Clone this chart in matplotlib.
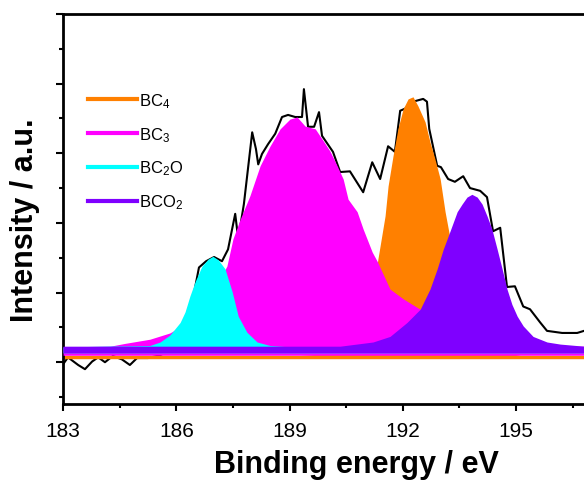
import numpy as np
import matplotlib
matplotlib.use("Agg")
import matplotlib.pyplot as plt
from matplotlib.lines import Line2D
from matplotlib.ticker import MultipleLocator

plt.rcParams['font.family'] = ['Liberation Sans', 'DejaVu Sans']
plt.rcParams['mathtext.default'] = 'regular'

# measured spectrum (binding energy in eV, intensity in a.u.)
exp_x = [183.00, 183.13, 183.40, 183.58, 183.77, 183.93, 184.11, 184.32, 184.56, 184.77,
         184.96, 185.25, 185.57, 185.89, 186.23, 186.44, 186.60, 186.79, 187.00, 187.21,
         187.37, 187.56, 187.64, 187.79, 188.01, 188.11, 188.17, 188.27, 188.43, 188.62,
         188.80, 188.96, 189.15, 189.33, 189.38, 189.49, 189.65, 189.78, 189.86, 190.15,
         190.34, 190.60, 190.95, 191.19, 191.40, 191.61, 191.79, 191.93, 192.06, 192.27,
         192.54, 192.64, 192.70, 192.91, 193.01, 193.20, 193.38, 193.60, 193.78, 194.05,
         194.23, 194.39, 194.58, 194.76, 194.97, 195.19, 195.37, 195.64, 195.82, 196.22,
         196.62, 196.80, 197.22]
exp_y = [-0.03, 0.07, -0.04, -0.10, 0.01, 0.07, 0.00, 0.09, 0.04, -0.04,
         0.06, 0.06, 0.10, 0.19, 0.47, 0.91, 1.36, 1.45, 1.51, 1.45,
         1.62, 2.13, 1.77, 2.27, 3.30, 3.06, 2.84, 2.99, 3.13, 3.28,
         3.52, 3.55, 3.52, 3.52, 3.92, 3.38, 3.38, 3.59, 3.25, 3.02,
         2.73, 2.74, 2.44, 2.87, 2.63, 3.10, 3.02, 3.61, 3.64, 3.74,
         3.78, 3.74, 3.35, 2.82, 2.80, 2.63, 2.59, 2.67, 2.50, 2.46,
         2.37, 1.88, 1.93, 1.08, 1.09, 0.80, 0.76, 0.57, 0.45, 0.42,
         0.42, 0.45, 0.47]

# fitted components
bc4_x = [183.00, 189.28, 190.34, 190.74, 191.00, 191.19, 191.34, 191.53, 191.61, 191.74,
         191.87, 192.01, 192.14, 192.27, 192.40, 192.59, 192.72, 192.85, 192.99, 193.12,
         193.23, 193.38, 193.57, 193.78, 194.05, 194.44, 195.11, 196.80]
bc4_y = [0.10, 0.10, 0.13, 0.22, 0.47, 0.91, 1.48, 2.10, 2.53, 2.96,
         3.35, 3.64, 3.78, 3.81, 3.68, 3.45, 3.16, 2.92, 2.63, 2.16,
         1.84, 1.41, 0.91, 0.47, 0.26, 0.16, 0.10, 0.10]

bc3_x = [183.00, 184.25, 184.64, 185.30, 185.83, 186.36, 186.89, 187.34, 187.50, 187.69,
         187.95, 188.22, 188.48, 188.75, 189.01, 189.20, 189.41, 189.68, 189.89, 190.07,
         190.26, 190.42, 190.55, 190.79, 190.95, 191.19, 191.32, 191.66, 192.01, 192.46,
         192.99, 193.52, 194.31, 195.37, 196.80]
bc3_y = [0.22, 0.23, 0.27, 0.33, 0.42, 0.59, 0.93, 1.38, 1.77, 2.05,
         2.39, 2.82, 3.10, 3.35, 3.49, 3.52, 3.39, 3.35, 3.18, 3.03,
         2.82, 2.63, 2.34, 2.16, 1.91, 1.58, 1.45, 1.05, 0.91, 0.76,
         0.59, 0.43, 0.30, 0.24, 0.23]

bc2o_x = [183.00, 185.30, 185.57, 185.83, 186.10, 186.23, 186.36, 186.50, 186.68, 186.84,
          186.97, 187.11, 187.29, 187.48, 187.64, 187.87, 188.14, 188.48, 189.01, 196.80]
bc2o_y = [0.22, 0.24, 0.29, 0.39, 0.57, 0.72, 0.95, 1.16, 1.38, 1.48,
          1.52, 1.47, 1.34, 1.01, 0.66, 0.43, 0.29, 0.24, 0.22, 0.22]

bco2_x = [183.00, 190.34, 191.21, 191.66, 192.11, 192.46, 192.72, 192.91, 193.07, 193.25,
          193.44, 193.57, 193.70, 193.83, 193.97, 194.10, 194.23, 194.36, 194.50, 194.63,
          194.76, 194.89, 195.03, 195.19, 195.45, 195.82, 196.17, 196.80]
bco2_y = [0.23, 0.23, 0.29, 0.37, 0.57, 0.76, 1.05, 1.34, 1.62, 1.88,
          2.16, 2.27, 2.37, 2.41, 2.37, 2.27, 2.10, 1.91, 1.62, 1.34,
          1.05, 0.83, 0.66, 0.52, 0.37, 0.29, 0.26, 0.23]

labels = ["BC$_4$", "BC$_3$", "BC$_2$O", "BCO$_2$"]
colors = ["#FF8000", "#FF00FF", "#00FFFF", "#7F00FF"]

fig = plt.figure(figsize=(5.84, 4.81), dpi=100)
ax = fig.add_axes([0.108, 0.158, 0.892, 0.811])

ax.plot(exp_x, exp_y, color="black", linewidth=1.5, zorder=1)
# drawing order: BC4, BC3, BC2O, BCO2
ax.fill_between(bc4_x, bc4_y, 0.05, color=colors[0], linewidth=0, zorder=2)
ax.fill_between(bc3_x, bc3_y, 0.10, color=colors[1], linewidth=0, zorder=3)
ax.fill_between(bc2o_x, bc2o_y, 0.135, color=colors[2], linewidth=0, zorder=4)
ax.fill_between(bco2_x, bco2_y, 0.135, color=colors[3], linewidth=0, zorder=5)

ax.set_xlim(183, 196.80)
ax.set_ylim(-0.6, 5.0)
ax.xaxis.set_major_locator(MultipleLocator(3))
ax.xaxis.set_minor_locator(MultipleLocator(1.5))
ax.yaxis.set_major_locator(MultipleLocator(1))
ax.yaxis.set_minor_locator(MultipleLocator(0.5))
ax.set_yticklabels([])
ax.tick_params(which="both", direction="out", width=1.5, top=False, right=False)
ax.tick_params(which="major", length=5, labelsize=15, pad=7)
ax.tick_params(which="minor", length=3)
for side in ["left", "bottom", "top"]:
    ax.spines[side].set_linewidth(2)
ax.spines["right"].set_visible(False)

ax.set_xlabel("Binding energy / eV", fontsize=22, fontweight="bold")
ax.xaxis.set_label_coords(0.564, -0.115)
ax.set_ylabel("Intensity / a.u.", fontsize=22, fontweight="bold")
ax.yaxis.set_label_coords(-0.044, 0.474)

handles = [Line2D([0], [0], color=c, linewidth=3) for c in colors]
ax.legend(handles, labels, loc="upper left", bbox_to_anchor=(0.02, 0.84),
          frameon=False, fontsize=12, handlelength=2.9, labelspacing=0.9,
          handletextpad=0.15)

fig.savefig("out.png", dpi=100)
